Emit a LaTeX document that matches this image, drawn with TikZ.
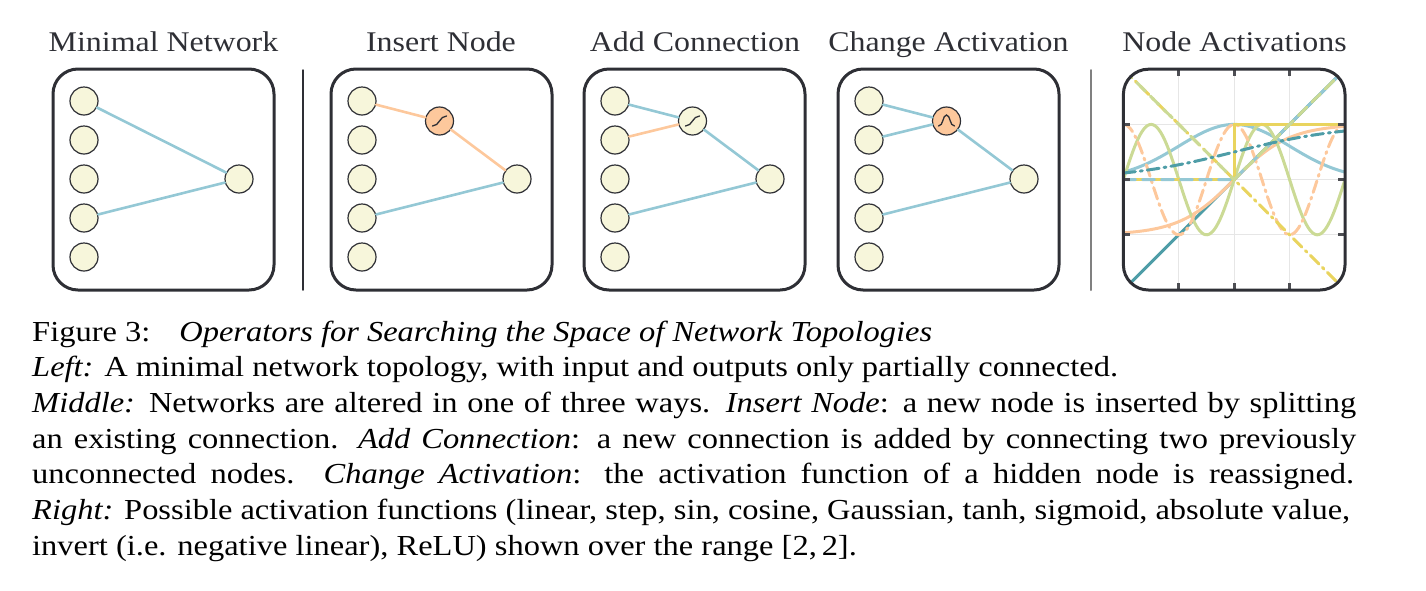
\documentclass[tikz,border=0pt]{standalone}
\usepackage{fontspec}
\setmainfont[FakeStretch=1.12]{Liberation Serif}
\definecolor{netblue}{HTML}{94C8D5}
\definecolor{netorange}{HTML}{FDC89C}
\definecolor{netteal}{HTML}{4E9DA7}
\definecolor{netgreen}{HTML}{CBDA95}
\definecolor{netyellow}{HTML}{E9D45E}
\definecolor{nodefill}{HTML}{F7F6DB}
\definecolor{boxgray}{HTML}{2E2F35}
\definecolor{gridgray}{HTML}{E6E6E6}
\begin{document}
\begin{tikzpicture}[x=1pt,y=-1pt,line cap=round,
    neuron/.style={circle,draw=boxgray,line width=1.2pt,fill=nodefill,minimum size=28pt,inner sep=0pt},
    hidden/.style={neuron,fill=netorange},
    panel/.style={draw=boxgray,line width=3pt,rounded corners=25pt},
    title/.style={font=\fontsize{28.5}{30}\selectfont,text=boxgray,anchor=base,inner sep=0pt},
    capline/.style={font=\fontsize{29}{34}\selectfont,anchor=base west,inner sep=0pt},
    conn/.style={line width=2.6pt,netblue},
    connnew/.style={line width=2.6pt,netorange},
    act/.style={line width=3pt},
    dashlong/.style={dash pattern=on 12pt off 7pt},
    dashdot/.style={dash pattern=on 12pt off 5pt on 2pt off 5pt}]
\useasboundingbox (0,0) rectangle (1426,590);
% titles
\node[title] (t1) at (163.5,51.7) {Minimal Network};
\node[title] (t2) at (441,51.7) {Insert Node};
\node[title] (t3) at (695,51.7) {Add Connection};
\node[title] (t4) at (948.5,51.7) {Change Activation};
\node[title] (t5) at (1234.5,51.7) {Node Activations};
% four network panels
\foreach \p/\px in {1/53,2/331,3/584,4/838}{
  \draw[panel] (\px,69) rectangle ++(221,221);
  \foreach \j/\iy in {1/101,2/140,3/179,4/218,5/257}
    \node[neuron] (p\p-in\j) at (\px+31,\iy) {};
  \node[neuron] (p\p-out) at (\px+186,179) {};
}
\node[hidden] (p2-hid) at (439.5,121) {};
\node[neuron] (p3-hid) at (692.5,121) {};
\node[hidden] (p4-hid) at (946.5,121) {};
\draw[conn] (p1-in1) -- (p1-out) (p1-in4) -- (p1-out);
\draw[connnew] (p2-in1) -- (p2-hid) -- (p2-out);
\draw[conn] (p2-in4) -- (p2-out);
\draw[conn] (p3-in1) -- (p3-hid) -- (p3-out) (p3-in4) -- (p3-out);
\draw[connnew] (p3-in2) -- (p3-hid);
\draw[conn] (p4-in1) -- (p4-hid) -- (p4-out) (p4-in2) -- (p4-hid) (p4-in4) -- (p4-out);
% activation glyphs
\draw[line width=1.3pt,boxgray,shift={(p2-hid.center)}] (-7,5) .. controls (0,5) and (0,-5) .. (7,-5);
\draw[line width=1.3pt,boxgray,shift={(p3-hid.center)}] (-7,5) .. controls (0,5) and (0,-5) .. (7,-5);
\draw[line width=1.3pt,boxgray,shift={(p4-hid.center)}] (-8,5) .. controls (-3,5) and (-4,-6) .. (0,-6) .. controls (4,-6) and (3,5) .. (8,5);
% separators
\draw[boxgray,line width=1.5pt] (303,70) -- (303,290);
\draw[gray,line width=2pt] (1091,70) -- (1091,290);
% activation functions, range [-2,2]
\begin{scope}[shift={(1234.2,179.6)},x=55.4pt,y=55.2pt]
  \begin{scope}
    \clip[rounded corners=25pt] (-2,-2) rectangle (2,2);
    \foreach \g in {-1,0,1}
      \draw[gridgray,line width=1pt] (\g,-2) -- (\g,2) (-2,\g) -- (2,\g);
    \draw[act,netteal] (-2,-2) -- (2,2);
    \draw[act,netorange] plot[domain=-2:2,samples=80,smooth] (\x,{tanh(\x)});
    \draw[act,netblue] plot[domain=-2:2,samples=80,smooth] (\x,{exp(-\x*\x/2)});
    \draw[act,netgreen] plot[domain=-2:2,samples=120,smooth] (\x,{sin(180*\x)});
    \draw[act,netorange,dashdot] plot[domain=-2:2,samples=120,smooth] (\x,{cos(180*\x)});
    \draw[act,netyellow] (-2,0) -- (0,0) -- (0,1) -- (2,1);
    \draw[act,netblue,dashlong] (-2,0) -- (0,0) -- (2,2);
    \draw[act,netyellow,dashdot] (-2,2) -- (2,-2);
    \draw[act,netgreen,dashlong] (-2,2) -- (0,0) -- (2,2);
    \draw[act,netteal,dashdot] plot[domain=-2:2,samples=80,smooth] (\x,{1/(1+exp(-\x))});
  \end{scope}
  \foreach \g in {-1,0,1}
    \draw[line width=3pt,line cap=butt,boxgray!85] (\g,2) -- (\g,1.88) (\g,-2) -- (\g,-1.88)
      (-2,\g) -- (-1.88,\g) (2,\g) -- (1.88,\g);
  \draw[panel] (-2,-2) rectangle (2,2);
\end{scope}
% caption
\node[capline] (c1) at (32,341) {Figure 3:\quad\textit{Operators for Searching the Space of Network Topologies}};
\node[capline] (c2) at (32,376.7) {\textit{Left:} A minimal network topology, with input and outputs only partially connected.};
\node[capline] (c3) at (32,412.3) {\hbox to 1324pt{\textit{Middle:} Networks are altered in one of three ways. \textit{Insert Node}: a new node is inserted by splitting}};
\node[capline] (c4) at (32,448) {\hbox to 1324pt{an existing connection. \textit{Add Connection}: a new connection is added by connecting two previously}};
\node[capline] (c5) at (32,483.7) {\hbox to 1322pt{unconnected nodes. \textit{Change Activation}: the activation function of a hidden node is reassigned.}};
\node[capline] (c6) at (32,519.3) {\hbox to 1318pt{\textit{Right:} Possible activation functions (linear, step, sin, cosine, Gaussian, tanh, sigmoid, absolute value,}};
\node[capline] (c7) at (32,555) {invert (i.e. negative linear), ReLU) shown over the range [2,\,2].};
\end{tikzpicture}
\end{document}
